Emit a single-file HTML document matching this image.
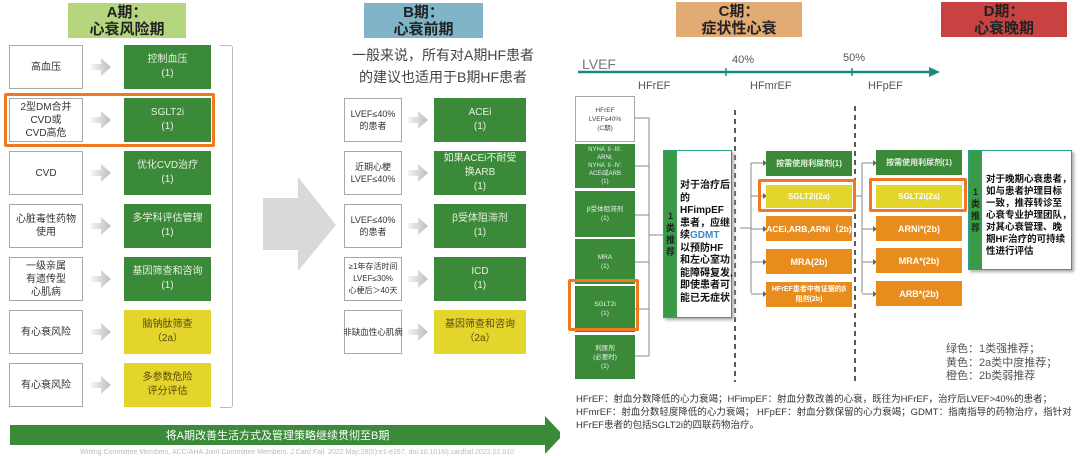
<!DOCTYPE html>
<html><head><meta charset="utf-8">
<style>
body{margin:0;width:1080px;height:455px;background:#fff;position:relative;overflow:hidden;font-family:"Liberation Sans","Noto Sans CJK SC",sans-serif;}
.a{position:absolute;box-sizing:border-box;display:flex;align-items:center;justify-content:center;text-align:center;}
.w{background:#fff;border:1.5px solid #a8a8a8;color:#333;font-size:10px;line-height:13px;}
.wb{background:#fff;border:1.5px solid #a8a8a8;color:#333;font-size:9px;line-height:12px;white-space:nowrap;}
.g{background:#3a8a3a;color:#e8f0e0;font-size:10px;line-height:14px;}
.y{background:#e3d52c;color:#5a4a10;font-size:10px;line-height:14px;}
.o{background:#e88c1e;color:#fff;font-size:9px;font-weight:bold;line-height:12px;}
.hl{position:absolute;box-sizing:border-box;border:3px solid #f07820;border-radius:2px;}
.hd{font-weight:bold;font-size:15px;line-height:17px;color:#222;}
.sg{font-size:6.5px;line-height:9px;color:#f0f0f0;white-space:nowrap;}
.t{position:absolute;white-space:nowrap;}
.strip{background:#3a9a48;color:#222;font-weight:bold;font-size:9px;line-height:12px;}
</style></head><body>

<!-- A -->
<div class="a hd" style="left:68px;top:3px;width:118px;height:35px;background:#b6d57f;">A期：<br>心衰风险期</div>
<div class="a w" style="left:9px;top:45px;width:74px;height:44px;">高血压</div>
<div class="a g" style="left:124px;top:45px;width:87px;height:44px;">控制血压<br>(1)</div>
<div class="a w" style="left:9px;top:98px;width:74px;height:44px;">2型DM合并<br>CVD或<br>CVD高危</div>
<div class="a g" style="left:124px;top:98px;width:87px;height:44px;">SGLT2i<br>(1)</div>
<div class="hl" style="left:4px;top:93px;width:211px;height:54px;"></div>
<div class="a w" style="left:9px;top:151px;width:74px;height:44px;">CVD</div>
<div class="a g" style="left:124px;top:151px;width:87px;height:44px;">优化CVD治疗<br>(1)</div>
<div class="a w" style="left:9px;top:204px;width:74px;height:44px;">心脏毒性药物<br>使用</div>
<div class="a g" style="left:124px;top:204px;width:87px;height:44px;">多学科评估管理<br>(1)</div>
<div class="a w" style="left:9px;top:257px;width:74px;height:44px;">一级亲属<br>有遗传型<br>心肌病</div>
<div class="a g" style="left:124px;top:257px;width:87px;height:44px;">基因筛查和咨询<br>(1)</div>
<div class="a w" style="left:9px;top:310px;width:74px;height:44px;">有心衰风险</div>
<div class="a y" style="left:124px;top:310px;width:87px;height:44px;">脑钠肽筛查<br>（2a）</div>
<div class="a w" style="left:9px;top:363px;width:74px;height:44px;">有心衰风险</div>
<div class="a y" style="left:124px;top:363px;width:87px;height:44px;">多参数危险<br>评分评估</div>
<div style="position:absolute;left:220px;top:45px;width:12px;height:361px;border:1.5px solid #bbb;border-left:none;border-radius:0 3px 3px 0;"></div>

<svg style="position:absolute;left:0;top:0" width="560" height="455">
<defs><linearGradient id="ga" x1="0" x2="1"><stop offset="0" stop-color="#f4f4f4"/><stop offset="1" stop-color="#bdbdbd"/></linearGradient></defs>
<g fill="url(#ga)">
<path d="M91,64h10v-6l10,9l-10,9v-6h-10z"/>
<path d="M91,117h10v-6l10,9l-10,9v-6h-10z"/>
<path d="M91,170h10v-6l10,9l-10,9v-6h-10z"/>
<path d="M91,223h10v-6l10,9l-10,9v-6h-10z"/>
<path d="M91,276h10v-6l10,9l-10,9v-6h-10z"/>
<path d="M91,329h10v-6l10,9l-10,9v-6h-10z"/>
<path d="M91,382h10v-6l10,9l-10,9v-6h-10z"/>
<path d="M408,117h10v-6l10,9l-10,9v-6h-10z"/>
<path d="M408,170h10v-6l10,9l-10,9v-6h-10z"/>
<path d="M408,223h10v-6l10,9l-10,9v-6h-10z"/>
<path d="M408,276h10v-6l10,9l-10,9v-6h-10z"/>
<path d="M408,329h10v-6l10,9l-10,9v-6h-10z"/>
</g>
<path d="M263,198h35v-21l38,48l-38,46v-21h-35z" fill="#d9d9d9"/>
<path d="M10,425h535v-9l18,19l-18,19v-9h-535z" fill="#3a8a3a"/>
</svg>
<div class="t" style="left:10px;top:427px;width:535px;text-align:center;color:#fff;font-size:11px;">将A期改善生活方式及管理策略继续贯彻至B期</div>
<div class="t" style="left:80px;top:449px;color:#bbb;font-size:7px;">Writing Committee Members, ACC/AHA Joint Committee Members. J Card Fail. 2022 May;28(5):e1-e167. doi:10.1016/j.cardfail.2022.02.010</div>

<!-- B -->
<div class="a hd" style="left:364px;top:3px;width:119px;height:35px;background:#80b4c8;">B期：<br>心衰前期</div>
<div class="t" style="left:323px;top:44px;width:240px;text-align:center;font-size:14px;line-height:22px;color:#444;">一般来说，所有对A期HF患者<br>的建议也适用于B期HF患者</div>
<div class="a wb" style="left:344px;top:98px;width:58px;height:44px;">LVEF≤40%<br>的患者</div>
<div class="a g" style="left:434px;top:98px;width:92px;height:44px;">ACEi<br>(1)</div>
<div class="a wb" style="left:344px;top:151px;width:58px;height:44px;">近期心梗<br>LVEF≤40%</div>
<div class="a g" style="left:434px;top:151px;width:92px;height:44px;">如果ACEi不耐受<br>换ARB<br>(1)</div>
<div class="a wb" style="left:344px;top:204px;width:58px;height:44px;">LVEF≤40%<br>的患者</div>
<div class="a g" style="left:434px;top:204px;width:92px;height:44px;">β受体阻滞剂<br>(1)</div>
<div class="a wb" style="left:344px;top:257px;width:58px;height:44px;font-size:8px;">≥1年存活时间<br>LVEF≤30%<br>心梗后＞40天</div>
<div class="a g" style="left:434px;top:257px;width:92px;height:44px;">ICD<br>(1)</div>
<div class="a wb" style="left:344px;top:310px;width:58px;height:44px;font-size:8.5px;">非缺血性心肌病</div>
<div class="a y" style="left:434px;top:310px;width:92px;height:44px;">基因筛查和咨询<br>（2a）</div>

<!-- C / D headers -->
<div class="a hd" style="left:676px;top:2px;width:126px;height:35px;background:#e3ab74;">C期：<br>症状性心衰</div>
<div class="a hd" style="left:941px;top:2px;width:126px;height:35px;background:#c84242;">D期：<br>心衰晚期</div>

<svg style="position:absolute;left:0;top:0" width="1080" height="455">
<line x1="578" y1="72" x2="930" y2="72" stroke="#1a8a78" stroke-width="2.5"/>
<path d="M929,67l11,5l-11,5z" fill="#1a8a78"/>
<line x1="726" y1="68" x2="726" y2="76" stroke="#1a8a78" stroke-width="1.5"/>
<line x1="852" y1="68" x2="852" y2="76" stroke="#1a8a78" stroke-width="1.5"/>
<line x1="735" y1="110" x2="735" y2="382" stroke="#222" stroke-width="1.5" stroke-dasharray="5,4"/>
<line x1="855" y1="106" x2="855" y2="382" stroke="#222" stroke-width="1.5" stroke-dasharray="5,4"/>
<g stroke="#888" stroke-width="1" fill="none">
<path d="M635,118h14v238"/>
<path d="M635,166h14M635,215h14M635,262h14M635,309h14M635,356h14M649,235h14"/>
<path d="M740,228h11M751,163v130M751,163h12M751,196h12M751,229h12M751,262h12M751,294h12"/>
<path d="M855,196h7M862,163v130M862,163h11M862,229h11M862,262h11M862,294h11"/>
</g>
<g fill="#666">
<path d="M763,160l4,3l-4,3z"/><path d="M763,193l4,3l-4,3z"/><path d="M763,226l4,3l-4,3z"/><path d="M763,259l4,3l-4,3z"/><path d="M763,291l4,3l-4,3z"/>
<path d="M873,160l4,3l-4,3z"/><path d="M873,226l4,3l-4,3z"/><path d="M873,259l4,3l-4,3z"/><path d="M873,291l4,3l-4,3z"/>
</g>
</svg>
<div class="t" style="left:582px;top:56px;font-size:14px;color:#777;">LVEF</div>
<div class="t" style="left:732px;top:54px;font-size:11px;color:#555;">40%</div>
<div class="t" style="left:843px;top:52px;font-size:11px;color:#555;">50%</div>
<div class="t" style="left:638px;top:80px;font-size:11px;color:#555;">HFrEF</div>
<div class="t" style="left:750px;top:80px;font-size:11px;color:#555;">HFmrEF</div>
<div class="t" style="left:868px;top:80px;font-size:11px;color:#555;">HFpEF</div>

<!-- C left column -->
<div class="a w sg" style="left:575px;top:96px;width:60px;height:46px;color:#444;font-size:6.5px;line-height:9px;">HFrEF<br>LVEF≤40%<br>(C期)</div>
<div class="a g sg" style="left:575px;top:144px;width:60px;height:44px;font-size:6px;line-height:8px;">NYHA Ⅱ-Ⅲ:<br>ARNi;<br>NYHA Ⅱ-Ⅳ:<br>ACEi或ARB<br>(1)</div>
<div class="a g sg" style="left:575px;top:191px;width:60px;height:46px;">β受体阻滞剂<br>(1)</div>
<div class="a g sg" style="left:575px;top:239px;width:60px;height:45px;">MRA<br>(1)</div>
<div class="a g sg" style="left:575px;top:286px;width:60px;height:46px;">SGLT2i<br>(1)</div>
<div class="hl" style="left:568px;top:279px;width:71px;height:52px;"></div>
<div class="a g sg" style="left:575px;top:335px;width:60px;height:44px;">利尿剂<br>(必要时)<br>(1)</div>

<!-- C recommendation box -->
<div style="position:absolute;left:663px;top:150px;width:69px;height:168px;box-sizing:border-box;border:1.5px solid #2aa08a;background:#fff;box-shadow:2px 2px 3px #aaa;"></div>
<div class="a strip" style="left:664px;top:151px;width:13px;height:166px;">1<br>类<br>推<br>荐</div>
<div class="t" style="left:680px;top:180px;font-size:10px;font-weight:bold;line-height:12.5px;color:#111;">对于治疗后<br>的<br>HFimpEF<br>患者，应继<br>续<span style="color:#3a8ad0">GDMT</span><br>以预防HF<br>和左心室功<br>能障碍复发,<br>即使患者可<br>能已无症状</div>

<!-- HFmrEF boxes -->
<div class="a g" style="left:766px;top:151px;width:86px;height:25px;font-size:8px;font-weight:bold;">按需使用利尿剂(1)</div>
<div class="a y" style="left:766px;top:185px;width:86px;height:23px;font-size:8px;font-weight:bold;color:#fff;">SGLT2i(2a)</div>
<div class="hl" style="left:758px;top:179px;width:98px;height:33px;"></div>
<div class="a o" style="left:766px;top:216px;width:86px;height:25px;font-size:8.5px;white-space:nowrap;">ACEi,ARB,ARNi（2b)</div>
<div class="a o" style="left:766px;top:249px;width:86px;height:25px;">MRA(2b)</div>
<div class="a o" style="left:766px;top:282px;width:86px;height:25px;font-size:7px;line-height:10px;white-space:nowrap;">HFrEF患者中有证据的β<br>阻剂(2b)</div>

<!-- HFpEF boxes -->
<div class="a g" style="left:876px;top:150px;width:86px;height:25px;font-size:8px;font-weight:bold;">按需使用利尿剂(1)</div>
<div class="a y" style="left:876px;top:185px;width:86px;height:23px;font-size:8px;font-weight:bold;color:#fff;">SGLT2i(2a)</div>
<div class="hl" style="left:869px;top:178px;width:98px;height:34px;"></div>
<div class="a o" style="left:876px;top:216px;width:86px;height:25px;">ARNi*(2b)</div>
<div class="a o" style="left:876px;top:248px;width:86px;height:25px;">MRA*(2b)</div>
<div class="a o" style="left:876px;top:281px;width:86px;height:25px;">ARB*(2b)</div>

<!-- D box -->
<div style="position:absolute;left:968px;top:150px;width:104px;height:120px;box-sizing:border-box;border:1.5px solid #2aa08a;background:#fff;box-shadow:2px 2px 3px #aaa;"></div>
<div class="a strip" style="left:969px;top:151px;width:13px;height:118px;">1<br>类<br>推<br>荐</div>
<div class="t" style="left:986px;top:174px;font-size:9.5px;font-weight:bold;line-height:12px;color:#111;">对于晚期心衰患者，<br>如与患者护理目标<br>一致，推荐转诊至<br>心衰专业护理团队，<br>对其心衰管理、晚<br>期HF治疗的可持续<br>性进行评估</div>

<!-- legend -->
<div class="t" style="left:946px;top:343px;font-size:11px;line-height:13.5px;color:#555;">绿色：1类强推荐；<br>黄色：2a类中度推荐；<br>橙色：2b类弱推荐</div>

<!-- footnote -->
<div class="t" style="left:576px;top:393px;font-size:9.5px;line-height:13px;color:#333;">HFrEF：射血分数降低的心力衰竭；HFimpEF：射血分数改善的心衰，既往为HFrEF，治疗后LVEF&gt;40%的患者；<br>HFmrEF：射血分数轻度降低的心力衰竭； HFpEF：射血分数保留的心力衰竭；GDMT：指南指导的药物治疗，指针对<br>HFrEF患者的包括SGLT2i的四联药物治疗。</div>

</body></html>
